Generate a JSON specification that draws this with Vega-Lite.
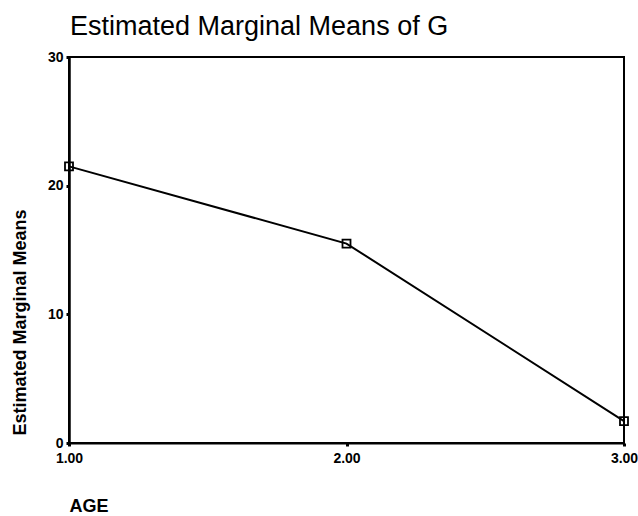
{
  "$schema": "https://vega.github.io/schema/vega-lite/v6.json",
  "autosize": "none",
  "width": 555,
  "height": 386,
  "padding": {"left": 69, "top": 57, "right": 14, "bottom": 73},
  "background": "white",
  "config": {
    "font": "Liberation Sans",
    "view": {"stroke": "black", "strokeWidth": 2}
  },
  "title": {
    "text": "Estimated Marginal Means of G",
    "anchor": "start",
    "frame": "group",
    "dx": 1,
    "offset": 9,
    "fontSize": 27,
    "fontWeight": "normal",
    "color": "black",
    "font": "Liberation Sans"
  },
  "data": {
    "values": [
      {"AGE": 1, "mean": 21.5},
      {"AGE": 2, "mean": 15.5},
      {"AGE": 3, "mean": 1.7}
    ]
  },
  "encoding": {
    "x": {
      "field": "AGE",
      "type": "quantitative",
      "scale": {"domain": [1, 3], "nice": false, "zero": false},
      "axis": {
        "values": [1, 2, 3],
        "format": ".2f",
        "grid": false,
        "domainColor": "black",
        "domainWidth": 2,
        "tickColor": "black",
        "tickWidth": 3,
        "tickSize": 3,
        "labelFont": "Liberation Sans",
        "labelFontWeight": "bold",
        "labelFontSize": 14,
        "labelColor": "black",
        "labelPadding": 5,
        "labelFlush": false,
        "title": "AGE",
        "titleFont": "Liberation Sans",
        "titleFontWeight": "bold",
        "titleFontSize": 18,
        "titleColor": "black",
        "titleAnchor": "start",
        "titleAlign": "left",
        "titleBaseline": "middle",
        "titleX": 0,
        "titleY": 63
      }
    },
    "y": {
      "field": "mean",
      "type": "quantitative",
      "scale": {"domain": [0, 30], "nice": false},
      "axis": {
        "values": [0, 10, 20, 30],
        "grid": false,
        "domainColor": "black",
        "domainWidth": 2.5,
        "tickColor": "black",
        "tickWidth": 3,
        "tickSize": 3,
        "labelFont": "Liberation Sans",
        "labelFontWeight": "bold",
        "labelFontSize": 14,
        "labelColor": "black",
        "labelPadding": 3,
        "title": "Estimated Marginal Means",
        "titleFont": "Liberation Sans",
        "titleFontWeight": "bold",
        "titleFontSize": 18,
        "titleColor": "black",
        "titleAngle": -90,
        "titleAlign": "center",
        "titleBaseline": "middle",
        "titleX": -49,
        "titleY": 265
      }
    }
  },
  "layer": [
    {
      "mark": {"type": "line", "color": "black", "strokeWidth": 2}
    },
    {
      "mark": {"type": "point", "shape": "square", "size": 64, "filled": false, "color": "black", "strokeWidth": 1.8, "opacity": 1}
    }
  ]
}
